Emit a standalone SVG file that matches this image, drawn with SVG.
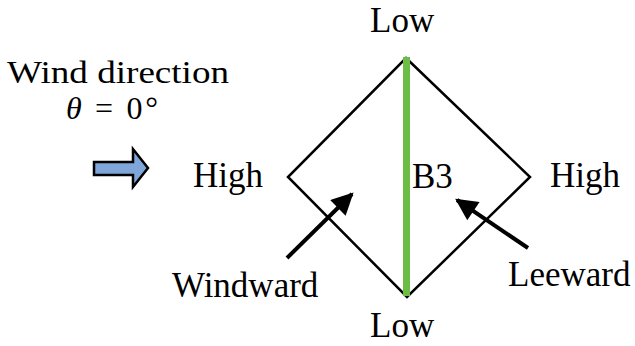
<svg xmlns="http://www.w3.org/2000/svg" width="635" height="346" viewBox="0 0 635 346">
<style>
text{font-family:"Liberation Serif","Times New Roman",serif;font-size:35px;fill:#000}
.sm{font-size:32px}
.ln{fill:none;stroke:#000;stroke-width:2.5}
.ar{stroke:#000;stroke-width:4;fill:none}
</style>
<defs>
<marker id="ah" viewBox="0 0 10 10" refX="9" refY="5" markerWidth="6" markerHeight="5.5" markerUnits="strokeWidth" orient="auto">
<path d="M0,0 L10,5 L0,10 z" fill="#000"/>
</marker>
</defs>
<rect width="635" height="346" fill="#fff"/>
<g id="wind-label">
<text class="sm" x="7" y="83" textLength="222" lengthAdjust="spacingAndGlyphs">Wind direction</text>
<text class="sm" x="66" y="119" textLength="92" lengthAdjust="spacing"><tspan font-style="italic">θ</tspan> = 0°</text>
</g>
<g id="wind-arrow">
<path d="M94,162 L133,162 L133,149 L148,168 L133,187 L133,175 L94,175 z" fill="#7ea6d8" stroke="#000" stroke-width="2.5" stroke-linejoin="miter"/>
</g>
<g id="building">
<path class="ln" d="M406,58 L530,177 L407,297 L288,177 z"/>
<line x1="406.5" y1="57" x2="406.5" y2="296" stroke="#6cbd45" stroke-width="7"/>
<text x="412" y="188">B3</text>
</g>
<g id="labels">
<text x="370" y="32">Low</text>
<text x="370" y="337">Low</text>
<text x="193" y="187">High</text>
<text x="550" y="187">High</text>
<text x="172" y="297">Windward</text>
<text x="508" y="286">Leeward</text>
</g>
<g id="connectors">
<line class="ar" x1="287" y1="258" x2="352" y2="194" marker-end="url(#ah)"/>
<line class="ar" x1="528" y1="248" x2="457" y2="200" marker-end="url(#ah)"/>
</g>
</svg>
